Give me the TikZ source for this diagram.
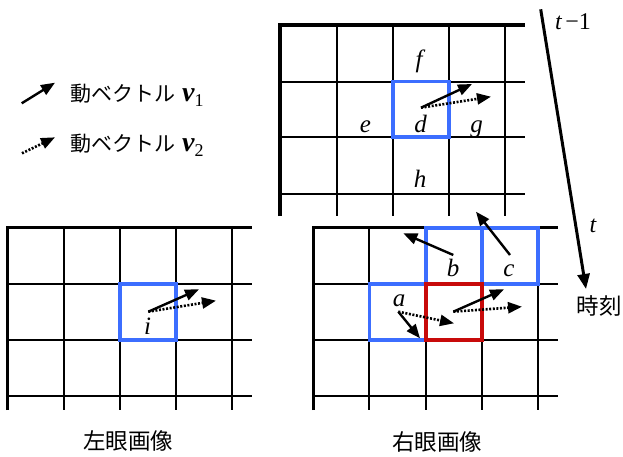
\documentclass[tikz,border=0pt]{standalone}
\usepackage{fontspec}
\usetikzlibrary{arrows.meta}
\newfontfamily\jp{Noto Sans CJK JP}
\newfontfamily\tms{Liberation Serif}
\newcommand{\vecv}[1]{{\fontsize{28}{32}\selectfont\tms\bfseries\itshape v}\raisebox{-5pt}{\fontsize{18}{20}\selectfont\tms #1}}
\begin{document}
\begin{tikzpicture}[x=1pt,y=-1pt,
  gridthin/.style={line width=1.8pt},
  gridthick/.style={line width=3.4pt},
  bluebox/.style={draw={rgb,255:red,60;green,110;blue,255},line width=3.6pt},
  redbox/.style={draw={rgb,255:red,200;green,10;blue,10},line width=3.6pt},
  mv/.style={line width=2.4pt,-{Triangle[length=14pt,width=11pt]}},
  mvdot/.style={line width=2.6pt,dash pattern=on 2pt off 1.6pt,-{Triangle[length=14pt,width=11pt]}},
  lbl/.style={inner sep=0pt,anchor=base,font=\fontsize{25}{29}\selectfont\tms\itshape},
  jtxt/.style={inner sep=0pt,anchor=base west,font=\fontsize{21}{25}\selectfont\jp},
  jcap/.style={inner sep=0pt,font=\fontsize{22.5}{26}\selectfont\jp},
]
\useasboundingbox (0,0) rectangle (623,457);

% ---------- top grid (t-1) ----------
\foreach \x in {336.7,392.7,449,505.3} \draw[gridthin] (\x,25) -- (\x,216);
\foreach \y in {81.7,137.3,194} \draw[gridthin] (280,\y) -- (525,\y);
\draw[gridthick] (280,216) -- (280,25) -- (525,25);
\draw[bluebox] (392.7,81.7) rectangle (449,137.3);
\node[lbl] (f) at (419,68) {f};
\node[lbl] (e) at (365.5,132.7) {e};
\node[lbl] (d) at (420.5,132.7) {d};
\node[lbl] (g) at (476.5,132.7) {g};
\node[lbl] (h) at (420,187) {h};
\coordinate (d0) at (421,107.7);
\coordinate (d1) at (472,84);
\coordinate (d2) at (491,96.7);
\draw[mvdot] (d0) -- (d2);
\draw[mv] (d0) -- (d1);

% ---------- time axis ----------
\coordinate (ta) at (540.7,9.3);
\coordinate (tb) at (586,289);
\draw[line width=3pt,-{Triangle[length=15pt,width=12pt]}] (ta) -- (tb);
\node[inner sep=0pt,anchor=base west,font=\fontsize{24}{28}\selectfont\tms] (tm1) at (555,30) {\textit{t}\hspace{3pt}−1};
\node[inner sep=0pt,anchor=base,font=\fontsize{24}{28}\selectfont\tms\itshape] (tt) at (593,232) {t};
\node[jcap] (jikoku) at (599,306) {時刻};

% ---------- legend ----------
\coordinate (l1a) at (21.7,103.3);
\coordinate (l1b) at (55,82.7);
\coordinate (l2a) at (22,153.3);
\coordinate (l2b) at (55,137.3);
\draw[mv] (l1a) -- (l1b);
\draw[mvdot] (l2a) -- (l2b);
\node[jtxt] (leg1) at (70,101.5) {動ベクトル\hspace{7pt}\vecv{1}};
\node[jtxt] (leg2) at (70,151.5) {動ベクトル\hspace{7pt}\vecv{2}};

% ---------- left eye grid ----------
\foreach \x in {64,120,176,232.3} \draw[gridthin] (\x,227.3) -- (\x,410);
\foreach \y in {284,340,396} \draw[gridthin] (7.3,\y) -- (251.7,\y);
\draw[gridthick] (7.3,410) -- (7.3,227.3) -- (251.7,227.3);
\draw[bluebox] (120,284) rectangle (176,340);
\node[lbl] (i) at (147.5,334) {i};
\coordinate (i0) at (148.3,311.7);
\coordinate (i1) at (199,289.3);
\coordinate (i2) at (216,300.7);
\draw[mvdot] (i0) -- (i2);
\draw[mv] (i0) -- (i1);
\node[jcap] (left) at (128,441) {左眼画像};

% ---------- right eye grid ----------
\foreach \x in {369.3,425.7,482,538} \draw[gridthin] (\x,227.7) -- (\x,410);
\foreach \y in {284,340,396} \draw[gridthin] (313.3,\y) -- (558.3,\y);
\draw[gridthick] (313.3,410) -- (313.3,227.7) -- (558.3,227.7);
\draw[bluebox] (425.7,227.7) rectangle (482,284);
\draw[bluebox] (482,227.7) rectangle (538,284);
\draw[bluebox] (369.3,284) rectangle (425.7,340);
\draw[redbox] (425.7,284) rectangle (482,340);
\node[lbl] (a) at (399,306.7) {a};
\node[lbl] (b) at (453,276.7) {b};
\node[lbl] (c) at (509,276.7) {c};
% b, c arrows
\coordinate (b0) at (453.3,255);
\coordinate (b1) at (403.3,233.3);
\coordinate (c0) at (510,255);
\coordinate (c1) at (476,211.7);
\draw[mv] (b0) -- (b1);
\draw[mv] (c0) -- (c1);
% a arrows
\coordinate (a0) at (398.3,311.7);
\coordinate (a1) at (420,338.3);
\coordinate (a2) at (454,323.3);
\draw[mvdot] (a0) -- (a2);
\draw[mv] (a0) -- (a1);
% red arrows
\coordinate (r0) at (453.3,311.7);
\coordinate (r1) at (504,289.3);
\coordinate (r2) at (522,306.7);
\draw[mvdot] (r0) -- (r2);
\draw[mv] (r0) -- (r1);
\node[jcap] (right) at (437,442) {右眼画像};
\end{tikzpicture}
\end{document}
